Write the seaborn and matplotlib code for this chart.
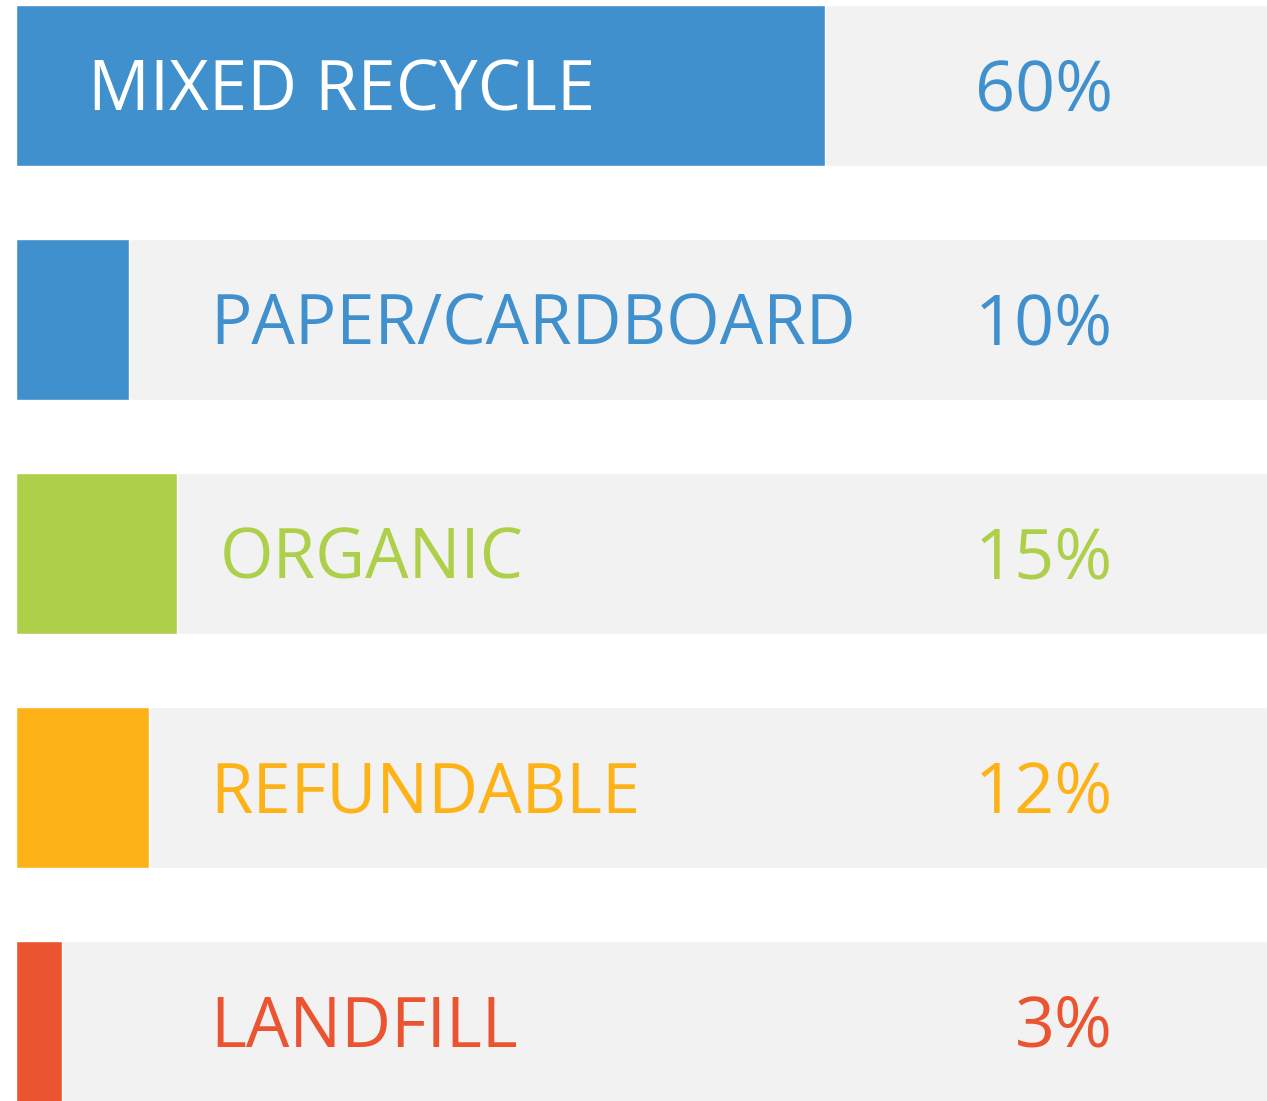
import matplotlib
matplotlib.use('Agg')
import matplotlib.pyplot as plt
import matplotlib.transforms as mtransforms
import seaborn as sns

# data
categories = ['MIXED RECYCLE', 'PAPER/CARDBOARD', 'ORGANIC', 'REFUNDABLE', 'LANDFILL']
pct_labels = ['60%', '10%', '15%', '12%', '3%']
# drawn fill length of each bar, as % of the grey track (not to scale with the labels)
fill_len = [64.7, 9.0, 12.9, 10.6, 3.7]
bar_colors = ['#3f90cd', '#3f90cd', '#aecf4a', '#fdb317', '#ea5430']
text_colors = ['white', '#3f90cd', '#aecf4a', '#fdb317', '#ea5430']

track_max = 100
label_x = [88, 210, 220, 210, 210]  # left edge of names, pixels

W, H = 1267, 1101
sns.set_theme(style='white')
plt.rcParams['font.family'] = ['Open Sans', 'DejaVu Sans']

fig = plt.figure(figsize=(W / 100, H / 100), dpi=100)
ax = fig.add_axes([16 / W, 0, (W - 16) / W, 1])

# grey tracks, then coloured fills
sns.barplot(x=[track_max] * len(categories), y=categories, color='#f2f2f2',
            orient='h', width=0.688, saturation=1, ax=ax)
sns.barplot(x=fill_len, y=categories, hue=categories, palette=bar_colors,
            orient='h', width=0.688, saturation=1, legend=False, ax=ax)

ax.set_xlim(0, track_max)
ax.set_ylim(4.34, -0.365)
ax.axis('off')

# baseline sits half a cap height below the row centre
base = mtransforms.offset_copy(ax.transData, fig=fig, y=-25.5, units='dots')
blend = mtransforms.blended_transform_factory(fig.transFigure, base)
for i, (name, pct) in enumerate(zip(categories, pct_labels)):
    ax.text(label_x[i] / W, i, name, transform=blend, ha='left', va='baseline',
            fontsize=49.5, color=text_colors[i])
    ax.text(1113 / W, i, pct, transform=blend, ha='right', va='baseline',
            fontsize=50.5, color=bar_colors[i])

fig.savefig('out.png', dpi=100)
